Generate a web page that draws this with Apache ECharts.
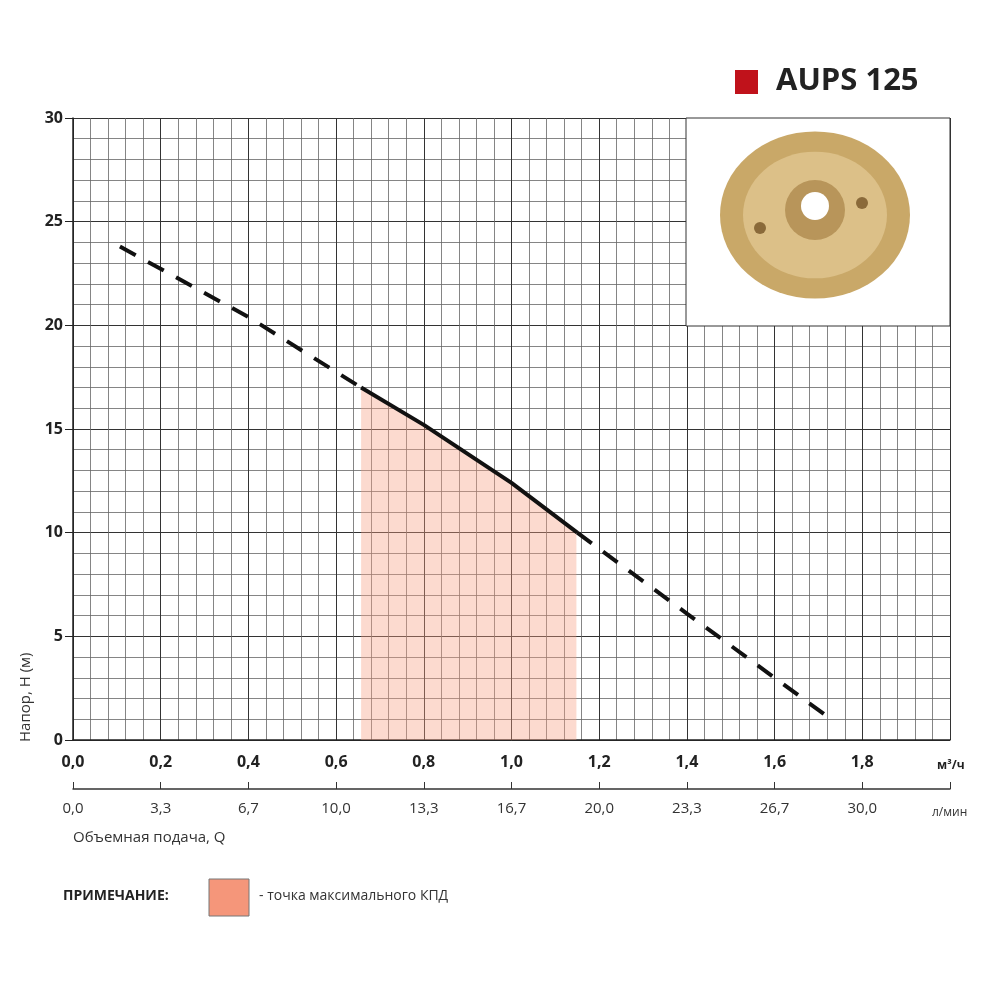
<!DOCTYPE html>
<html lang="ru">
<head>
<meta charset="UTF-8">
<title>AUPS 125</title>
<script src="https://cdn.jsdelivr.net/npm/echarts@6/dist/echarts.min.js"></script>
</head>
<body style="margin:0;background:#fff">
<div id="chart" style="width:1000px;height:1000px;"></div>
<script>
// характеристика насоса: подача (м³/ч) и напор (м)
var flowDash1 = [0.107, 0.4, 0.657];
var headDash1 = [23.8, 20.4, 17.0];
var flowSolid = [0.657, 0.8, 1.0, 1.15];
var headSolid = [17.0, 15.2, 12.4, 10.0];
var flowDash2 = [1.15, 1.4, 1.6, 1.716];
var headDash2 = [10.0, 6.1, 3.0, 1.2];
// зона максимального КПД
var effFlow = [0.657, 0.8, 1.0, 1.148];
var effHead = [17.0, 15.2, 12.4, 10.0];

function pts(xs, ys) { return xs.map(function (x, i) { return [x, ys[i]]; }); }
function comma(v, d) { return v.toFixed(d).replace('.', ','); }

var myChart = echarts.init(document.getElementById('chart'));
var font = '"Open Sans", "Noto Sans", sans-serif';

var option = {
    backgroundColor: '#fff',
    animation: false,
    grid: { left: 73, right: 50, top: 118, bottom: 260 },
    xAxis: [{
        type: 'value', min: 0, max: 2, interval: 0.2,
        axisLine: { onZero: false, lineStyle: { color: '#222', width: 1.5 } },
        axisTick: { show: false },
        axisLabel: {
            color: '#222', fontWeight: 'bold', fontSize: 16, fontFamily: font, margin: 14,
            formatter: function (v) { return v > 1.9 ? '' : comma(v, 1); }
        },
        splitLine: { lineStyle: { color: '#333', width: 1 } },
        minorTick: { show: false, splitNumber: 5 },
        minorSplitLine: { show: true, lineStyle: { color: '#666', width: 0.8 } }
    }, {
        type: 'value', min: 0, max: 100 / 3, interval: 10 / 3,
        position: 'bottom', offset: 49,
        axisLine: { show: true, onZero: false, lineStyle: { color: '#333', width: 1.5 } },
        axisTick: { show: true, inside: true, length: 7, lineStyle: { color: '#333' } },
        axisLabel: {
            color: '#333', fontSize: 15, fontFamily: font, margin: 12,
            formatter: function (v) { return v > 31 ? '' : comma(v, 1); }
        },
        splitLine: { show: false }
    }],
    yAxis: {
        type: 'value', min: 0, max: 30, interval: 5,
        axisLine: { show: true, lineStyle: { color: '#222', width: 1.5 } },
        axisTick: { show: true, length: 8, lineStyle: { color: '#222' } },
        axisLabel: { color: '#222', fontWeight: 'bold', fontSize: 16, fontFamily: font, margin: 10 },
        splitLine: { lineStyle: { color: '#333', width: 1 } },
        minorTick: { show: false, splitNumber: 5 },
        minorSplitLine: { show: true, lineStyle: { color: '#666', width: 0.8 } }
    },
    series: [{
        type: 'line', data: pts(effFlow, effHead), symbol: 'none',
        lineStyle: { width: 0 },
        areaStyle: { color: 'rgba(246,160,130,0.55)', origin: 'start' }, z: 1
    }, {
        type: 'line', data: pts(flowDash1, headDash1), symbol: 'none',
        lineStyle: { color: '#111', width: 4, type: [18, 14] }, z: 3
    }, {
        type: 'line', data: pts(flowSolid, headSolid), symbol: 'none',
        lineStyle: { color: '#111', width: 4 }, z: 3
    }, {
        type: 'line', data: pts(flowDash2, headDash2), symbol: 'none',
        lineStyle: { color: '#111', width: 4, type: [18, 14] }, z: 3
    }],
    graphic: [
        { type: 'rect', shape: { x: 735, y: 70, width: 23, height: 24 }, style: { fill: '#c0121b' } },
        { type: 'text', left: 776, top: 66, style: { text: 'AUPS 125', font: 'bold 31px ' + font, fill: '#222' } },
        // вставка с рабочим колесом
        { type: 'rect', z: 10, shape: { x: 686, y: 118, width: 264, height: 208 }, style: { fill: '#fff', stroke: '#333', lineWidth: 1 } },
        { type: 'circle', z: 11, shape: { cx: 815, cy: 215, r: 95 }, style: { fill: '#c9a868' }, scaleY: 0.88, originY: 215 },
        { type: 'circle', z: 11, shape: { cx: 815, cy: 215, r: 72 }, style: { fill: '#dcc088' }, scaleY: 0.88, originY: 215 },
        { type: 'circle', z: 11, shape: { cx: 815, cy: 210, r: 30 }, style: { fill: '#b8955a' } },
        { type: 'circle', z: 11, shape: { cx: 815, cy: 206, r: 14 }, style: { fill: '#fff' } },
        { type: 'circle', z: 11, shape: { cx: 760, cy: 228, r: 6 }, style: { fill: '#8a6a3a' } },
        { type: 'circle', z: 11, shape: { cx: 862, cy: 203, r: 6 }, style: { fill: '#8a6a3a' } },
        // подписи осей
        { type: 'text', left: 937, top: 760, style: { text: 'м³/ч', font: 'bold 12px ' + font, fill: '#222' } },
        { type: 'text', left: 932, top: 807, style: { text: 'л/мин', font: '12px ' + font, fill: '#333' } },
        { type: 'text', left: 73, top: 830, style: { text: 'Объемная подача, Q', font: '15px ' + font, fill: '#333' } },
        { type: 'text', x: 18, y: 742, rotation: Math.PI / 2, style: { text: 'Напор, H (м)', font: '15px ' + font, fill: '#333' } },
        // примечание
        { type: 'text', left: 63, top: 889, style: { text: 'ПРИМЕЧАНИЕ:', font: 'bold 14px ' + font, fill: '#222' } },
        { type: 'rect', shape: { x: 209, y: 879, width: 40, height: 37 }, style: { fill: '#f5967a', stroke: '#777', lineWidth: 1 } },
        { type: 'text', left: 259, top: 889, style: { text: '- точка максимального КПД', font: '14px ' + font, fill: '#333' } }
    ]
};
myChart.setOption(option);
</script>
</body>
</html>
